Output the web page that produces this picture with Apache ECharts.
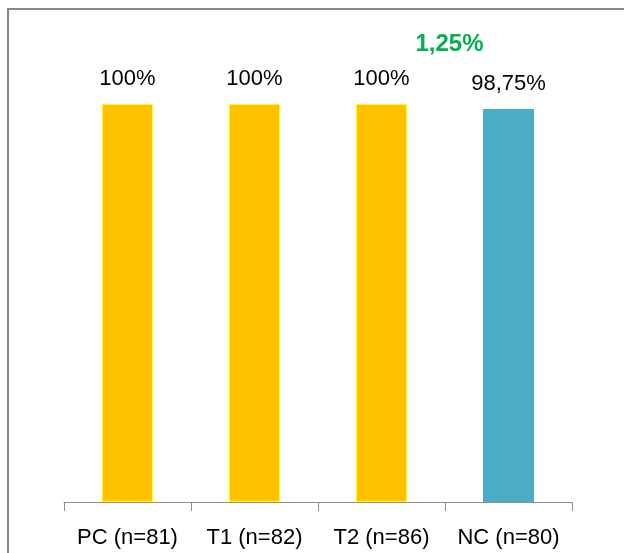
<!DOCTYPE html>
<html>
<head>
<meta charset="utf-8">
<script src="https://cdn.jsdelivr.net/npm/echarts@6/dist/echarts.min.js"></script>
<style>
  html, body { margin: 0; padding: 0; background: #fff; }
  #chart { width: 624px; height: 553px; }
</style>
</head>
<body>
<div id="chart"></div>
<script>
// categories and values
const categories = ["PC (n=81)", "T1 (n=82)", "T2 (n=86)", "NC (n=80)"]
const mainValues = [100, 100, 100, 98.75]
const mainLabels = ["100%", "100%", "100%", "98,75%"]
const restValues = [0, 0, 0, 1.25]
const restLabels = ["", "", "", "1,25%"]
const barColors = ["#FFC000", "#FFC000", "#FFC000", "#4BACC6"]

const FONT = "Liberation Sans"

let chart = echarts.init(document.getElementById("chart"))

let option = {
    animation: false,
    graphic: [{
        type: "rect",
        shape: { x: 8, y: 9, width: 640, height: 560 },
        style: { fill: null, stroke: "#888888", lineWidth: 2 },
        silent: true
    }],
    grid: { left: 64, right: 52, top: 104, bottom: 51 },
    xAxis: {
        type: "category",
        data: categories,
        axisLine: { lineStyle: { color: "#8c8c8c", width: 1 } },
        axisTick: { show: true, interval: 0, length: 9, lineStyle: { color: "#8c8c8c" } },
        axisLabel: { interval: 0, hideOverlap: false, color: "#000", fontFamily: FONT, fontSize: 22, margin: 25 }
    },
    yAxis: {
        type: "value", min: 0, max: 100, show: false
    },
    series: [
        {
            type: "bar",
            stack: "all",
            barWidth: 51,
            data: mainValues.map((v, i) => ({
                value: v,
                itemStyle: {
                    color: barColors[i],
                    borderColor: i < 3 ? "#FFFF00" : barColors[i],
                    borderWidth: i < 3 ? 1 : 0
                }
            })),
            label: {
                show: true,
                position: "top",
                distance: 14,
                color: "#000",
                fontFamily: FONT,
                fontSize: 22,
                formatter: p => mainLabels[p.dataIndex]
            }
        },
        {
            type: "bar",
            stack: "all",
            barWidth: 51,
            data: restValues,
            itemStyle: { color: "rgba(0,0,0,0)" },
            label: {
                show: true,
                position: "top",
                distance: 14,
                offset: [-59, -34],
                color: "#00B050",
                fontWeight: "bold",
                fontFamily: FONT,
                fontSize: 24,
                formatter: p => restLabels[p.dataIndex]
            }
        }
    ]
}

chart.setOption(option)
</script>
</body>
</html>
